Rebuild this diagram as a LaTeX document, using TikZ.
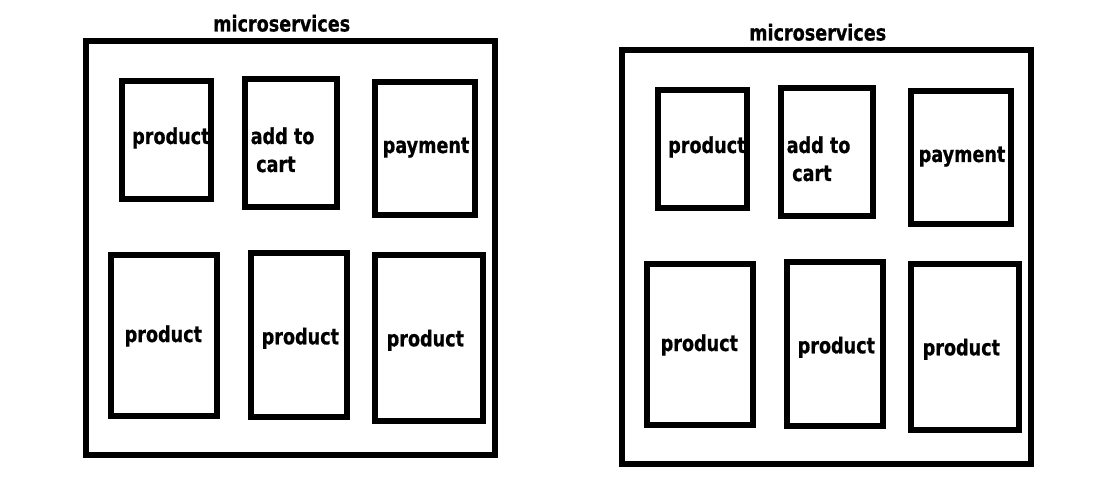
\documentclass[tikz,border=0pt]{standalone}
\usepackage{fontspec}
\newfontfamily\labfont{DejaVu Sans Bold}[FakeStretch=0.8,FakeBold=0.6]
\tikzset{
  box/.style={draw=black, line width=5.2pt, rectangle, inner sep=0pt, fill=none},
  lab/.style={anchor=base west, inner sep=0pt, font=\labfont\fontsize{22}{26}\selectfont, text=black}
}
\begin{document}
\begin{tikzpicture}[x=1pt,y=-1pt]
\useasboundingbox[fill=white] (0,0) rectangle (1101,489);
\foreach \s/\dx/\dy in {L/0/0, R/536/9}{
\begin{scope}[shift={(\dx,\dy)}]
  \node[box, minimum width=409pt, minimum height=414pt] (outer\s) at (290.5,248) {};
  \node[box, minimum width=89pt, minimum height=118pt] (prodA\s) at (166.5,140) {};
  \node[box, minimum width=92pt, minimum height=128pt] (cart\s) at (291,143) {};
  \node[box, minimum width=100pt, minimum height=133pt] (pay\s) at (425,148.5) {};
  \node[box, minimum width=106pt, minimum height=161pt] (prodB\s) at (164,335.5) {};
  \node[box, minimum width=96pt, minimum height=164pt] (prodC\s) at (299,335) {};
  \node[box, minimum width=108pt, minimum height=166pt] (prodD\s) at (429,338) {};
  \node[lab] (title\s) at (213,31.5) {microservices};
  \node[lab] (tA\s) at (132,144) {product};
  \node[lab] (tCa\s) at (250.5,144) {add to};
  \node[lab] (tCb\s) at (256,172) {cart};
  \node[lab] (tP\s) at (382.5,153) {payment};
  \node[lab] (tB\s) at (124.5,342) {product};
  \node[lab] (tC\s) at (261.5,344.3) {product};
  \node[lab] (tD\s) at (386.5,346.3) {product};
\end{scope}
}
\end{tikzpicture}
\end{document}
